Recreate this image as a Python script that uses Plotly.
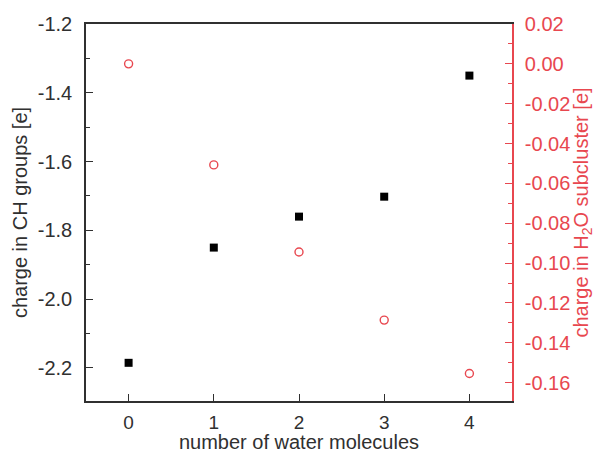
import plotly.graph_objects as go

n_water = [0, 1, 2, 3, 4]
ch_charge = [-2.185, -1.850, -1.760, -1.702, -1.350]
h2o_charge = [0.000, -0.0507, -0.0944, -0.1286, -0.1554]

x_ticks = [0, 1, 2, 3, 4]
left_ticks = [-2.2, -2.0, -1.8, -1.6, -1.4, -1.2]
right_ticks = [0.02, 0.00, -0.02, -0.04, -0.06, -0.08, -0.10, -0.12, -0.14, -0.16]

RED = "#e8474f"
DARK = "#303030"
FONT = "Liberation Sans, Arial, sans-serif"

fig = go.Figure()
fig.add_trace(go.Scatter(
    x=n_water, y=ch_charge, mode="markers",
    marker=dict(symbol="square", size=8, color="black"),
    yaxis="y", showlegend=False))
fig.add_trace(go.Scatter(
    x=n_water, y=h2o_charge, mode="markers",
    marker=dict(symbol="circle-open", size=8, color=RED, line=dict(width=1.4, color=RED)),
    yaxis="y2", showlegend=False))

fig.update_layout(
    width=595, height=453,
    margin=dict(l=86, r=83, t=24, b=52),
    plot_bgcolor="white", paper_bgcolor="white",
    font=dict(family=FONT, size=20, color=DARK),
    xaxis=dict(
        range=[-0.5, 4.5], tickvals=x_ticks, ticktext=[str(v) for v in x_ticks],
        showline=True, linecolor=DARK, linewidth=1.5, mirror=True,
        ticks="inside", ticklen=7, tickwidth=1.2, tickcolor=DARK,
        showgrid=False, zeroline=False, automargin=False,
        tickfont=dict(size=19, color=DARK), ticklabelstandoff=3,
        title=dict(text="number of water molecules", font=dict(size=20, color=DARK), standoff=2),
    ),
    yaxis=dict(
        range=[-2.296, -1.2], tickvals=left_ticks, ticktext=[f"{v:.1f}" for v in left_ticks],
        showline=True, linecolor=DARK, linewidth=1.5,
        ticks="inside", ticklen=7, tickwidth=1.2, tickcolor=DARK,
        minor=dict(dtick=0.1, tick0=-1.2, ticks="inside", ticklen=4, tickcolor=DARK, showgrid=False),
        showgrid=False, zeroline=False, automargin=False,
        tickfont=dict(size=20, color=DARK), ticklabelstandoff=8,
        title=dict(text="charge in CH groups [e]", font=dict(size=20, color=DARK), standoff=5),
    ),
    yaxis2=dict(
        overlaying="y", side="right",
        range=[-0.1692, 0.02], tickvals=right_ticks, ticktext=[f"{v:.2f}" for v in right_ticks],
        showline=True, linecolor=RED, linewidth=1.5,
        ticks="inside", ticklen=7, tickwidth=1.2, tickcolor=RED,
        minor=dict(dtick=0.01, tick0=0.0, ticks="inside", ticklen=4, tickcolor=RED, showgrid=False),
        showgrid=False, zeroline=False, automargin=False,
        tickfont=dict(size=20, color=RED), ticklabelstandoff=7,
        title=dict(text="charge in H<sub>2</sub>O subcluster [e]", font=dict(size=20, color=RED), standoff=8),
    ),
)

fig.write_html("out.html")
